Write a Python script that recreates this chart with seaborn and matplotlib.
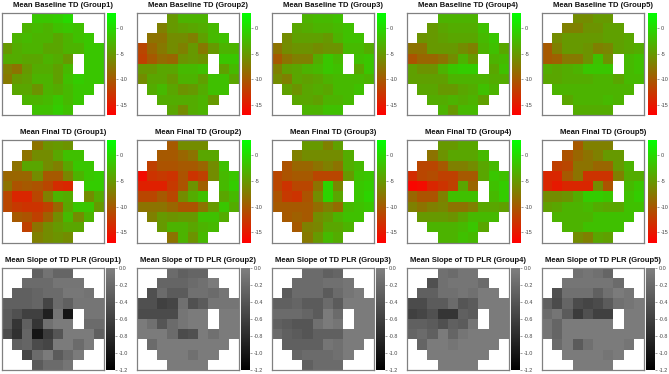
import numpy as np
import matplotlib
matplotlib.use("Agg")
import matplotlib.pyplot as plt
from matplotlib.colors import LinearSegmentedColormap
import seaborn as sns

N = np.nan

base_g1 = [[-1.5,-1.5,-1,0],[-3,-2.5,-3,-2,-1.5,-2],[-3,-2.5,-3,-3,-4,-3,-2,-1.5],
 [-5,-3.5,-3,-3,-4,-4,-3,-3,-1.5,-1.5],[-3.5,-3.5,-4,-4,-3,-3.5,-5,N,-1.5,-1.5],
 [-7,-8,-5,-3.5,-3.5,-4.5,-2.5,N,-1.5,-1.5],[-7.5,-5,-4.5,-3,-3,-4.5,-2,-1,-1.5,-1.5],
 [-4,-4,-5.5,-3,-3.5,-2.5,-1.5,-1.5],[-3,-3,-2.5,-1.5,-2.5,-1.5],[-2,-2,-1,-2]]
base_g2 = [[-5,-3,-3,-3],[-7,-5,-4.5,-4,-3.5,-2.5],[-8,-8,-6,-6,-7,-4.5,-2.5,-2],
 [-11.5,-9,-7.5,-6,-7,-5,-7.5,-5,-3,-3],[-12,-10,-8.5,-9,-5.5,-5,-5.5,N,-1.5,-1.5],
 [-5,-5,-4,-4,-2.5,-2.5,-2,N,-4.5,-2.5],[-6,-4,-4,-5,-3,-3,-4.5,-2,-2,-4],
 [-3.5,-2.5,-4,-5.5,-5,-3.5,-2,-2],[-3.5,-3.5,-3.5,-3.5,-3,-5],[-4,-6,-3.5,-3]]
base_g3 = [[-3,-2.5,-2.5,-2],[-4,-3.5,-3,-3,-2.5,-2],[-6,-4.5,-4.5,-4.5,-5,-3,-2,-2],
 [-8,-6,-5.5,-5.5,-6,-5.5,-5.5,-2.5,-2.5,-3.5],[-10,-8,-7,-7,-3.5,-1.5,-2.5,N,-2,-1.5],
 [-7,-4.5,-4,-3,-2.5,-1.5,-2,N,-4,-1.5],[-6,-7,-4,-4.5,-4,-3,-2.5,-2.5,-2.5,-3],
 [-4.5,-5.5,-4,-3.5,-4,-2.5,-2.5,-2],[-4,-4,-4.5,-3,-3,-2.5],[-3,-3,-2,-2]]
base_g4 = [[-3,-3,-3,-3],[-5,-4,-3.5,-3.5,-3.5,-2],[-5.5,-5,-4.5,-4,-4,-4,-2.5,-1.5],
 [-8,-8,-5,-5,-5,-6,-7,-3,-2,-4],[-10.5,-9,-9,-8,-6,-3,-5,N,-3,-2.5],
 [-4.5,-5.5,-5.5,-3,-1.5,-1,-1,N,-4,-2],[-4.5,-4.5,-4.5,-4.5,-3,-3,-3,-3,-3.5,-3.5],
 [-4,-4,-5,-5,-4,-3.5,-2,-3],[-3.5,-3.5,-3,-3.5,-3,-4.5],[-3,-5,-2.5,-2.5]]
base_g5 = [[-6,-6,-5,-5],[-7,-7,-5.5,-5.5,-4.5,-4.5],[-6,-5,-5,-5,-5,-4.5,-4.5,-4],
 [-10,-7,-5,-5,-5.5,-7,-6.5,-4.5,-4,-3.5],[-10,-9.5,-7.5,-7.5,-5.5,-2,-5.5,N,-2.5,-2],
 [-3.5,-4,-3.5,-3,-1.5,-1.5,-1.5,N,-2.5,-2],[-4,-4,-3.5,-3.5,-3.5,-3,-3,-4,-2.5,-2.5],
 [-3,-3,-3,-3,-3,-3,-3,-3],[-4,-3,-3,-3,-2.5,-3],[-3.5,-3.5,-3.5,-3.5]]

final_g1 = [[-8,-5.5,-5,-5.5],[-8,-6,-6,-4,-2,-2],[-8,-4,-4,-6,-7,-4,-1.5,-1.5],
 [-9,-9,-9,-6,-10,-10,-6.5,-3,-1.5,-1],[-8,-10.5,-10,-10.5,-11.5,-13.5,-14,N,-1,-1],
 [-11.5,-14,-14,-11.5,-7,-3,-3.5,N,-6,-3.5],[-11.5,-12.5,-13,-13,-12,-9,-4,-1.5,-1.5,-5],
 [-10,-10.5,-12,-9.5,-6,-2.5,-6,-3],[-12,-8,-6,-5,-4,-4],[-7,-6,-5.5,-6]]
final_g2 = [[-10,-6,-6,-6],[-10,-10,-9,-8,-4,-4],[-12,-10.5,-10.5,-10,-10,-9,-6,-2],
 [-16,-13,-12.5,-13,-10.5,-13,-12,-6,-2.5,-1.5],[-14.5,-14.5,-14.5,-12.5,-10.5,-5.5,-9.5,N,-2.5,-1],
 [-11.5,-11.5,-10,-11.5,-6,-3.5,-2,N,-4,-2.5],[-8,-8,-8,-9,-10.5,-10.5,-8,-5,-1.5,-3.5],
 [-7,-5,-5.5,-5,-5,-2,-2,-3.5],[-5,-3,-3,-4,-3,-2.5],[-8,-3,-5.5,-2.5]]
final_g3 = [[-5,-5,-7,-4.5],[-7,-6,-6,-6,-6,-3.5],[-10.5,-9,-9,-8,-7,-8,-3.5,-2.5],
 [-11.5,-10.5,-10,-10,-11.5,-11.5,-11.5,-5,-2,-1.5],[-11.5,-13,-11.5,-11.5,-8,-0.5,-6.5,N,-1.5,-1],
 [-10.5,-12.5,-13,-10.5,-6,-0.5,-4,N,-1.5,-0.5],[-10,-10,-10,-10,-8.5,-7,-8.5,-2.5,-2,-1.5],
 [-10,-9.5,-10,-6,-5,-3,-2,-2],[-10,-7,-6.5,-4,-4,-3],[-7.5,-5,-2.5,-3.5]]
final_g4 = [[-5,-5,-4,-4],[-8,-5.5,-4,-4,-4,-2.5],[-11.5,-11.5,-10,-7,-7,-6,-4,-2.5],
 [-13.5,-11.5,-11,-12,-12,-10,-10,-4,-1.5,-2],[-16.5,-16,-14,-13,-12,-4,-9,N,-2,-1],
 [-9,-10.5,-10.5,-7,-2,-2,-2,N,-2.5,-1],[-7,-8,-7,-6.5,-8,-8,-7,-4,-4,-4.5],
 [-5,-5,-5,-5.5,-4,-2.5,-2.5,-2.5],[-3,-3,-3,-2.5,-1.5,-4],[-3,-3,-2,-2.5]]
final_g5 = [[-10,-7,-7,-7],[-10.5,-9,-8,-7,-5,-5],[-12,-11.5,-8,-8,-9,-9,-5,-3],
 [-14,-14,-10,-8,-13,-13,-13,-7,-3.5,-3.5],[-14,-15,-14,-14,-14,-6,-10.5,N,-2.5,-1.5],
 [-6,-6,-5.5,-3.5,-1,-1,-1.5,N,-2,-1],[-4.5,-4,-3,-3,-2.5,-3.5,-4,-4,-2,-2],
 [-3,-3,-3,-3,-2,-2,-2,-2],[-3,-3,-2,-2,-2,-2],[-6,-7,-4,-4.5]]

slope_g1 = [[-0.3,-0.12,-0.25,-0.25],[-0.2,-0.2,-0.2,-0.1,-0.1,-0.1],
 [-0.3,-0.3,-0.25,-0.2,-0.2,-0.08,-0.08,-0.12],[-0.3,-0.3,-0.3,-0.25,-0.55,-0.2,-0.3,-0.1,-0.1,-0.1],
 [-0.35,-0.45,-0.6,-0.6,-0.9,-0.1,-1.0,N,-0.1,-0.1],[-0.35,-0.7,-0.3,-0.7,-0.15,-0.05,-0.05,N,-0.2,-0.2],
 [-0.5,-0.75,-0.25,-1.0,-0.65,-0.4,-0.05,-0.05,-0.05,-0.3],[-0.3,-0.25,-0.5,-0.55,-0.05,-0.05,-0.2,-0.05],
 [-0.55,-0.2,-0.05,-0.35,-0.2,-0.05],[-0.35,-0.2,-0.2,-0.1]]
slope_g2 = [[-0.2,-0.3,-0.25,-0.25],[-0.25,-0.25,-0.25,-0.2,-0.15,-0.05],
 [-0.45,-0.2,-0.35,-0.35,-0.15,-0.15,-0.2,-0.1],[-0.45,-0.45,-0.6,-0.55,-0.15,-0.45,-0.35,-0.1,-0.1,-0.1],
 [-0.5,-0.5,-0.5,-0.5,-0.1,-0.05,-0.05,N,-0.05,-0.05],[-0.05,-0.15,-0.4,-0.2,-0.1,-0.05,-0.05,N,-0.05,-0.05],
 [-0.05,-0.05,-0.05,-0.2,-0.5,-0.45,-0.05,-0.15,-0.05,-0.05],[-0.2,-0.05,-0.05,-0.05,-0.05,-0.05,-0.05,-0.05],
 [-0.05,-0.05,-0.05,-0.15,-0.05,-0.05],[-0.05,-0.05,-0.05,-0.05]]
slope_g3 = [[-0.2,-0.2,-0.3,-0.25],[-0.2,-0.2,-0.2,-0.15,-0.15,-0.1],
 [-0.35,-0.2,-0.2,-0.2,-0.35,-0.2,-0.1,-0.05],[-0.3,-0.3,-0.25,-0.35,-0.35,-0.2,-0.35,-0.05,-0.05,-0.05],
 [-0.2,-0.2,-0.2,-0.25,-0.35,-0.05,-0.2,N,-0.05,-0.05],[-0.3,-0.35,-0.4,-0.4,-0.15,-0.05,-0.1,N,-0.05,-0.05],
 [-0.2,-0.3,-0.35,-0.4,-0.3,-0.3,-0.3,-0.05,-0.05,-0.05],[-0.3,-0.3,-0.3,-0.3,-0.1,-0.15,-0.05,-0.05],
 [-0.25,-0.2,-0.2,-0.2,-0.15,-0.05],[-0.3,-0.2,-0.2,-0.2]]
slope_g4 = [[-0.15,-0.2,-0.1,-0.1],[-0.45,-0.15,-0.1,-0.1,-0.1,-0.2],
 [-0.3,-0.3,-0.15,-0.15,-0.1,-0.15,-0.05,-0.05],[-0.5,-0.5,-0.35,-0.35,-0.2,-0.4,-0.35,-0.05,-0.05,-0.05],
 [-0.6,-0.55,-0.45,-0.7,-0.7,-0.3,-0.35,N,-0.05,-0.05],[-0.3,-0.3,-0.35,-0.45,-0.3,-0.35,-0.1,N,-0.05,-0.05],
 [-0.25,-0.2,-0.3,-0.05,-0.25,-0.1,-0.05,-0.05,-0.05,-0.05],[-0.25,-0.05,-0.05,-0.1,-0.05,-0.05,-0.05,-0.05],
 [-0.05,-0.05,-0.05,-0.05,-0.05,-0.05],[-0.05,-0.05,-0.05,-0.05]]
slope_g5 = [[-0.15,-0.1,-0.15,-0.25],[-0.1,-0.1,-0.1,-0.1,-0.1,-0.2],
 [-0.45,-0.15,-0.15,-0.15,-0.3,-0.15,-0.05,-0.1],[-0.3,-0.5,-0.25,-0.5,-0.55,-0.5,-0.35,-0.15,-0.1,-0.05],
 [-0.2,-0.1,-0.35,-0.65,-0.45,-0.6,-0.6,N,-0.05,-0.05],[-0.1,-0.25,-0.05,-0.05,-0.05,-0.05,-0.05,N,-0.05,-0.05],
 [-0.1,-0.25,-0.05,-0.05,-0.05,-0.05,-0.05,-0.05,-0.05,-0.05],[-0.2,-0.05,-0.35,-0.15,-0.05,-0.05,-0.05,-0.1],
 [-0.05,-0.05,-0.05,-0.05,-0.1,-0.05],[-0.05,-0.05,-0.05,-0.05]]

groups = ["Group1", "Group2", "Group3", "Group4", "Group5"]
row_titles = ["Mean Baseline TD", "Mean Final TD", "Mean Slope of TD PLR"]
rows_data = [[base_g1, base_g2, base_g3, base_g4, base_g5],
             [final_g1, final_g2, final_g3, final_g4, final_g5],
             [slope_g1, slope_g2, slope_g3, slope_g4, slope_g5]]
td_ticks = [0, -5, -10, -15]
slope_ticks = [0.0, -0.2, -0.4, -0.6, -0.8, -1.0, -1.2]

sns.set_theme(style="white")
plt.rcParams["font.family"] = ["Liberation Sans", "DejaVu Sans"]
plt.rcParams["axes.unicode_minus"] = False

W, H = 669, 374
fig = plt.figure(figsize=(W / 100, H / 100), dpi=100, facecolor="white")

red_green = LinearSegmentedColormap.from_list("rg", ["#ff0000", "#00ff00"], N=256)
black_gray = LinearSegmentedColormap.from_list("bg", ["#000000", "#808080"], N=256)

def to_grid(rows):
    grid = np.full((10, 10), np.nan)
    for r, vals in enumerate(rows):
        start = (10 - len(vals)) // 2
        grid[r, start:start + len(vals)] = vals
    return grid

def px_axes(x0, x1, y0, y1):
    return fig.add_axes([x0 / W, 1 - y1 / H, (x1 - x0) / W, (y1 - y0) / H])

panel_x = [(1.5, 104), (136.5, 239), (271.5, 374), (407, 509), (542, 644)]
cbar_x = [[(107, 116), (242, 251), (377, 386), (512, 521), (648, 657)],
          [(107, 116), (242, 251), (377, 386), (512, 521), (648, 657)],
          [(105.5, 115), (241, 250), (376, 385), (511, 520), (646, 655)]]
row_y = [(12.5, 115), (140, 242.5), (267.5, 370)]

for r in range(3):
    for c in range(5):
        x0, x1 = panel_x[c]
        y0, y1 = row_y[r]
        ax = px_axes(x0, x1, y0, y1)
        cx0, cx1 = cbar_x[r][c]
        cax = px_axes(cx0, cx1, y0, y1)
        slope = r == 2
        sns.heatmap(to_grid(rows_data[r][c]), ax=ax, cbar_ax=cax,
                    cmap=black_gray if slope else red_green,
                    vmin=-1.2 if slope else -17, vmax=0 if slope else 3,
                    xticklabels=False, yticklabels=False)
        ax.set_facecolor("white")
        for s in ax.spines.values():
            s.set_visible(True)
            s.set_color("#808080")
            s.set_linewidth(0.9)
        ax.set_title(f"{row_titles[r]} ({groups[c]})", fontsize=5.5, x=0.6,
                     fontweight="bold", color="#111111", pad=4)
        ticks = slope_ticks if slope else td_ticks
        cax.set_yticks(ticks)
        cax.set_yticklabels([f"{t:.1f}" if slope else f"{t}" for t in ticks])
        cax.tick_params(axis="y", length=1.2, width=0.4, color="#555555", pad=1.2,
                        labelsize=3.9, labelcolor="#444444", right=True, left=False)
        for s in cax.spines.values():
            s.set_visible(False)

fig.savefig("out.png", dpi=100, facecolor="white")
